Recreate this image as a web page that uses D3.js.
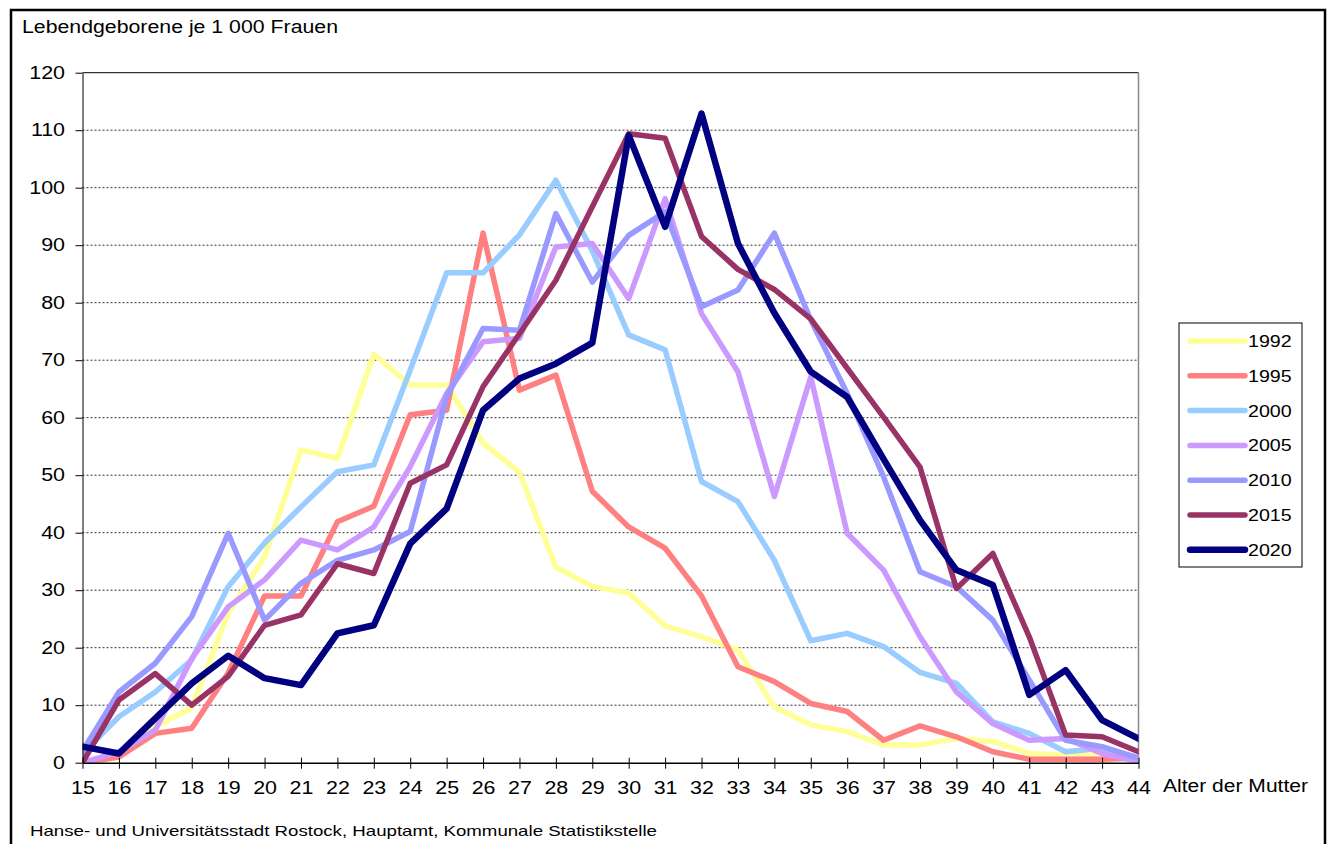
<!DOCTYPE html>
<html>
<head>
<meta charset="utf-8">
<script src="https://cdn.jsdelivr.net/npm/d3@7"></script>
<style>
body{margin:0;background:#fff;}
text{font-family:Arial,"Liberation Sans",sans-serif;fill:#000;}
</style>
</head>
<body>
<div id="chart"></div>
<script>
// Alter der Mutter
var ages = [15,16,17,18,19,20,21,22,23,24,25,26,27,28,29,30,31,32,33,34,35,36,37,38,39,40,41,42,43,44];
var yTicks = [0,10,20,30,40,50,60,70,80,90,100,110,120];
var years = ["1992","1995","2000","2005","2010","2015","2020"];
var colors = ["#FFFF99","#FF8080","#99CCFF","#CC99FF","#9999FF","#993366","#000080"];

// Lebendgeborene je 1 000 Frauen
var y1992 = [0,1,6.3,9.5,26,35.8,54.4,52.9,71,65.7,65.7,55.6,50.5,34,30.7,29.5,23.8,21.9,19.6,9.7,6.6,5.4,3.1,3.1,4.2,3.7,1.6,1.3,1.3,0.8];
var y1995 = [0,1,5.1,6,15.6,29,29,41.9,44.6,60.5,61.3,92.1,64.8,67.4,47.2,41,37.3,29,16.7,14.1,10.3,8.9,3.9,6.4,4.5,1.9,0.6,0.6,0.6,0.8];
var y2000 = [1.6,8,12.3,17.9,30.6,38.2,44.5,50.6,51.8,68.3,85.2,85.2,91.8,101.3,89,74.4,71.8,48.9,45.4,35.2,21.2,22.5,20.2,15.7,13.8,7.1,5.1,1.9,2.5,0.8];
var y2005 = [0,1.9,5.7,18.1,27.1,31.8,38.7,37,41,51.5,64.2,73.2,73.8,89.7,90.3,80.7,98.1,78.1,68,46.3,67.1,39.9,33.5,21.9,12.3,6.8,3.9,4.2,1.6,0.2];
var y2010 = [2,12.3,17.3,25.4,39.9,24.8,31.2,35.2,37,40.2,63.6,75.5,75.2,95.5,83.6,91.7,95.8,79.3,82.2,92.1,77,64.2,49.7,33.2,30.6,24.8,14.4,3.9,2.8,0.8];
var y2015 = [0,10.9,15.5,10,15,23.9,25.7,34.6,32.9,48.6,51.8,65.4,74.6,83.9,96.7,109.4,108.6,91.5,85.8,82.3,77.2,68.6,60.1,51.4,30.3,36.4,21.9,4.8,4.5,1.9];
var y2020 = [2.8,1.6,7.7,13.8,18.6,14.7,13.5,22.5,23.9,38.1,44.2,61.3,66.8,69.4,73,109.1,93.2,112.9,90.3,78.2,68,63.6,52.8,42.2,33.5,30.9,11.8,16.1,7.4,4.2];

var series = [y1992,y1995,y2000,y2005,y2010,y2015,y2020];

var SX = 1.19; // text in the original is stretched horizontally

var draw = function(){
	var svg = d3.select("#chart").append("svg").attr("width",1333).attr("height",844);

	// outer frame
	svg.append("rect").attr("x",11).attr("y",10).attr("width",1314).attr("height",900)
		.attr("fill","white").attr("stroke","#000").attr("stroke-width",2.5);

	var x = d3.scaleLinear().domain([15,44]).range([82.5,1138.5]);
	var y = d3.scaleLinear().domain([0,120]).range([762.7,72.7]);

	// gridlines
	svg.append("g").selectAll(".grid").data(yTicks.slice(1,-1)).enter()
		.append("line").attr("class","grid")
		.attr("x1",x(15)).attr("x2",x(44))
		.attr("y1",function(d){ return y(d); }).attr("y2",function(d){ return y(d); })
		.attr("stroke","#333").attr("stroke-width",1).attr("stroke-dasharray","2,2");

	// plot area border (top + right)
	svg.append("line").attr("x1",x(15)).attr("x2",x(44)).attr("y1",y(120)).attr("y2",y(120))
		.attr("stroke","#000").attr("stroke-width",1);
	svg.append("line").attr("x1",x(44)).attr("x2",x(44)).attr("y1",y(120)).attr("y2",y(0))
		.attr("stroke","#888").attr("stroke-width",1.5);

	// lines
	svg.append("clipPath").attr("id","plotclip").append("rect")
		.attr("x",x(15)).attr("y",y(120)).attr("width",x(44)-x(15)).attr("height",y(0)-y(120));

	var line = d3.line()
		.x(function(d){ return x(d[0]); })
		.y(function(d){ return y(d[1]); });

	var lines = svg.append("g").attr("clip-path","url(#plotclip)");
	for(var k=0;k<series.length;k++){
		var pts = ages.map(function(a,i){ return [a, series[k][i]]; });
		lines.append("path").datum(pts)
			.attr("fill","none")
			.attr("stroke",colors[k])
			.attr("stroke-width", k==6 ? 6.5 : 5.5)
			.attr("stroke-linejoin","round")
			.attr("stroke-linecap","round")
			.attr("d",line);
	}

	// y axis
	var yAxis = d3.axisLeft(y).tickValues(yTicks).tickSizeInner(7).tickSizeOuter(0).tickPadding(10);
	var gy = svg.append("g").attr("transform","translate("+x(15)+",0)").call(yAxis);
	gy.select(".domain").attr("stroke","#000");
	gy.selectAll(".tick line").attr("stroke","#000");
	gy.selectAll("text").attr("font-size","18px").attr("font-family","Arial, 'Liberation Sans', sans-serif")
		.attr("x",-17.5/SX).attr("transform","scale("+SX+",1)");

	// x axis
	var xAxis = d3.axisBottom(x).tickValues(ages).tickFormat(d3.format("d")).tickSizeInner(6).tickSizeOuter(0);
	var gx = svg.append("g").attr("transform","translate(0,"+y(0)+")").call(xAxis);
	gx.select(".domain").attr("stroke","#000").attr("stroke-width",1.5);
	gx.selectAll(".tick line").attr("stroke","#000").attr("y1",-5).attr("y2",6);
	gx.selectAll("text").attr("font-size","18px").attr("font-family","Arial, 'Liberation Sans', sans-serif")
		.attr("y",19).attr("transform","scale("+SX+",1)");

	// axis titles
	svg.append("text").attr("x",22).attr("y",33).attr("font-size","17.5px")
		.attr("textLength",316).attr("lengthAdjust","spacingAndGlyphs")
		.text("Lebendgeborene je 1 000 Frauen");
	svg.append("text").attr("x",1163).attr("y",792).attr("font-size","17.5px")
		.attr("textLength",145).attr("lengthAdjust","spacingAndGlyphs")
		.text("Alter der Mutter");

	// source
	svg.append("text").attr("x",30).attr("y",836).attr("font-size","14.5px")
		.attr("textLength",627).attr("lengthAdjust","spacingAndGlyphs")
		.text("Hanse- und Universitätsstadt Rostock, Hauptamt, Kommunale Statistikstelle");

	// legend
	var lg = svg.append("g").attr("class","legend");
	lg.append("rect").attr("x",1179).attr("y",323).attr("width",123).attr("height",244)
		.attr("fill","white").attr("stroke","#000").attr("stroke-width",1);
	lg.selectAll(".legline").data(years).enter().append("line").attr("class","legline")
		.attr("x1",1190).attr("x2",1245)
		.attr("y1",function(d,i){ return 341+i*34.8; }).attr("y2",function(d,i){ return 341+i*34.8; })
		.attr("stroke",function(d,i){ return colors[i]; })
		.attr("stroke-width",function(d,i){ return i==6 ? 6.5 : 5.5; })
		.attr("stroke-linecap","round");
	lg.selectAll(".legtext").data(years).enter().append("text").attr("class","legtext")
		.attr("transform",function(d,i){ return "translate(1248,"+(341+i*34.8)+") scale("+SX+",1)"; })
		.attr("dy","0.36em").attr("font-size","16.5px")
		.text(function(d){ return d; });
};

draw();
</script>
</body>
</html>
